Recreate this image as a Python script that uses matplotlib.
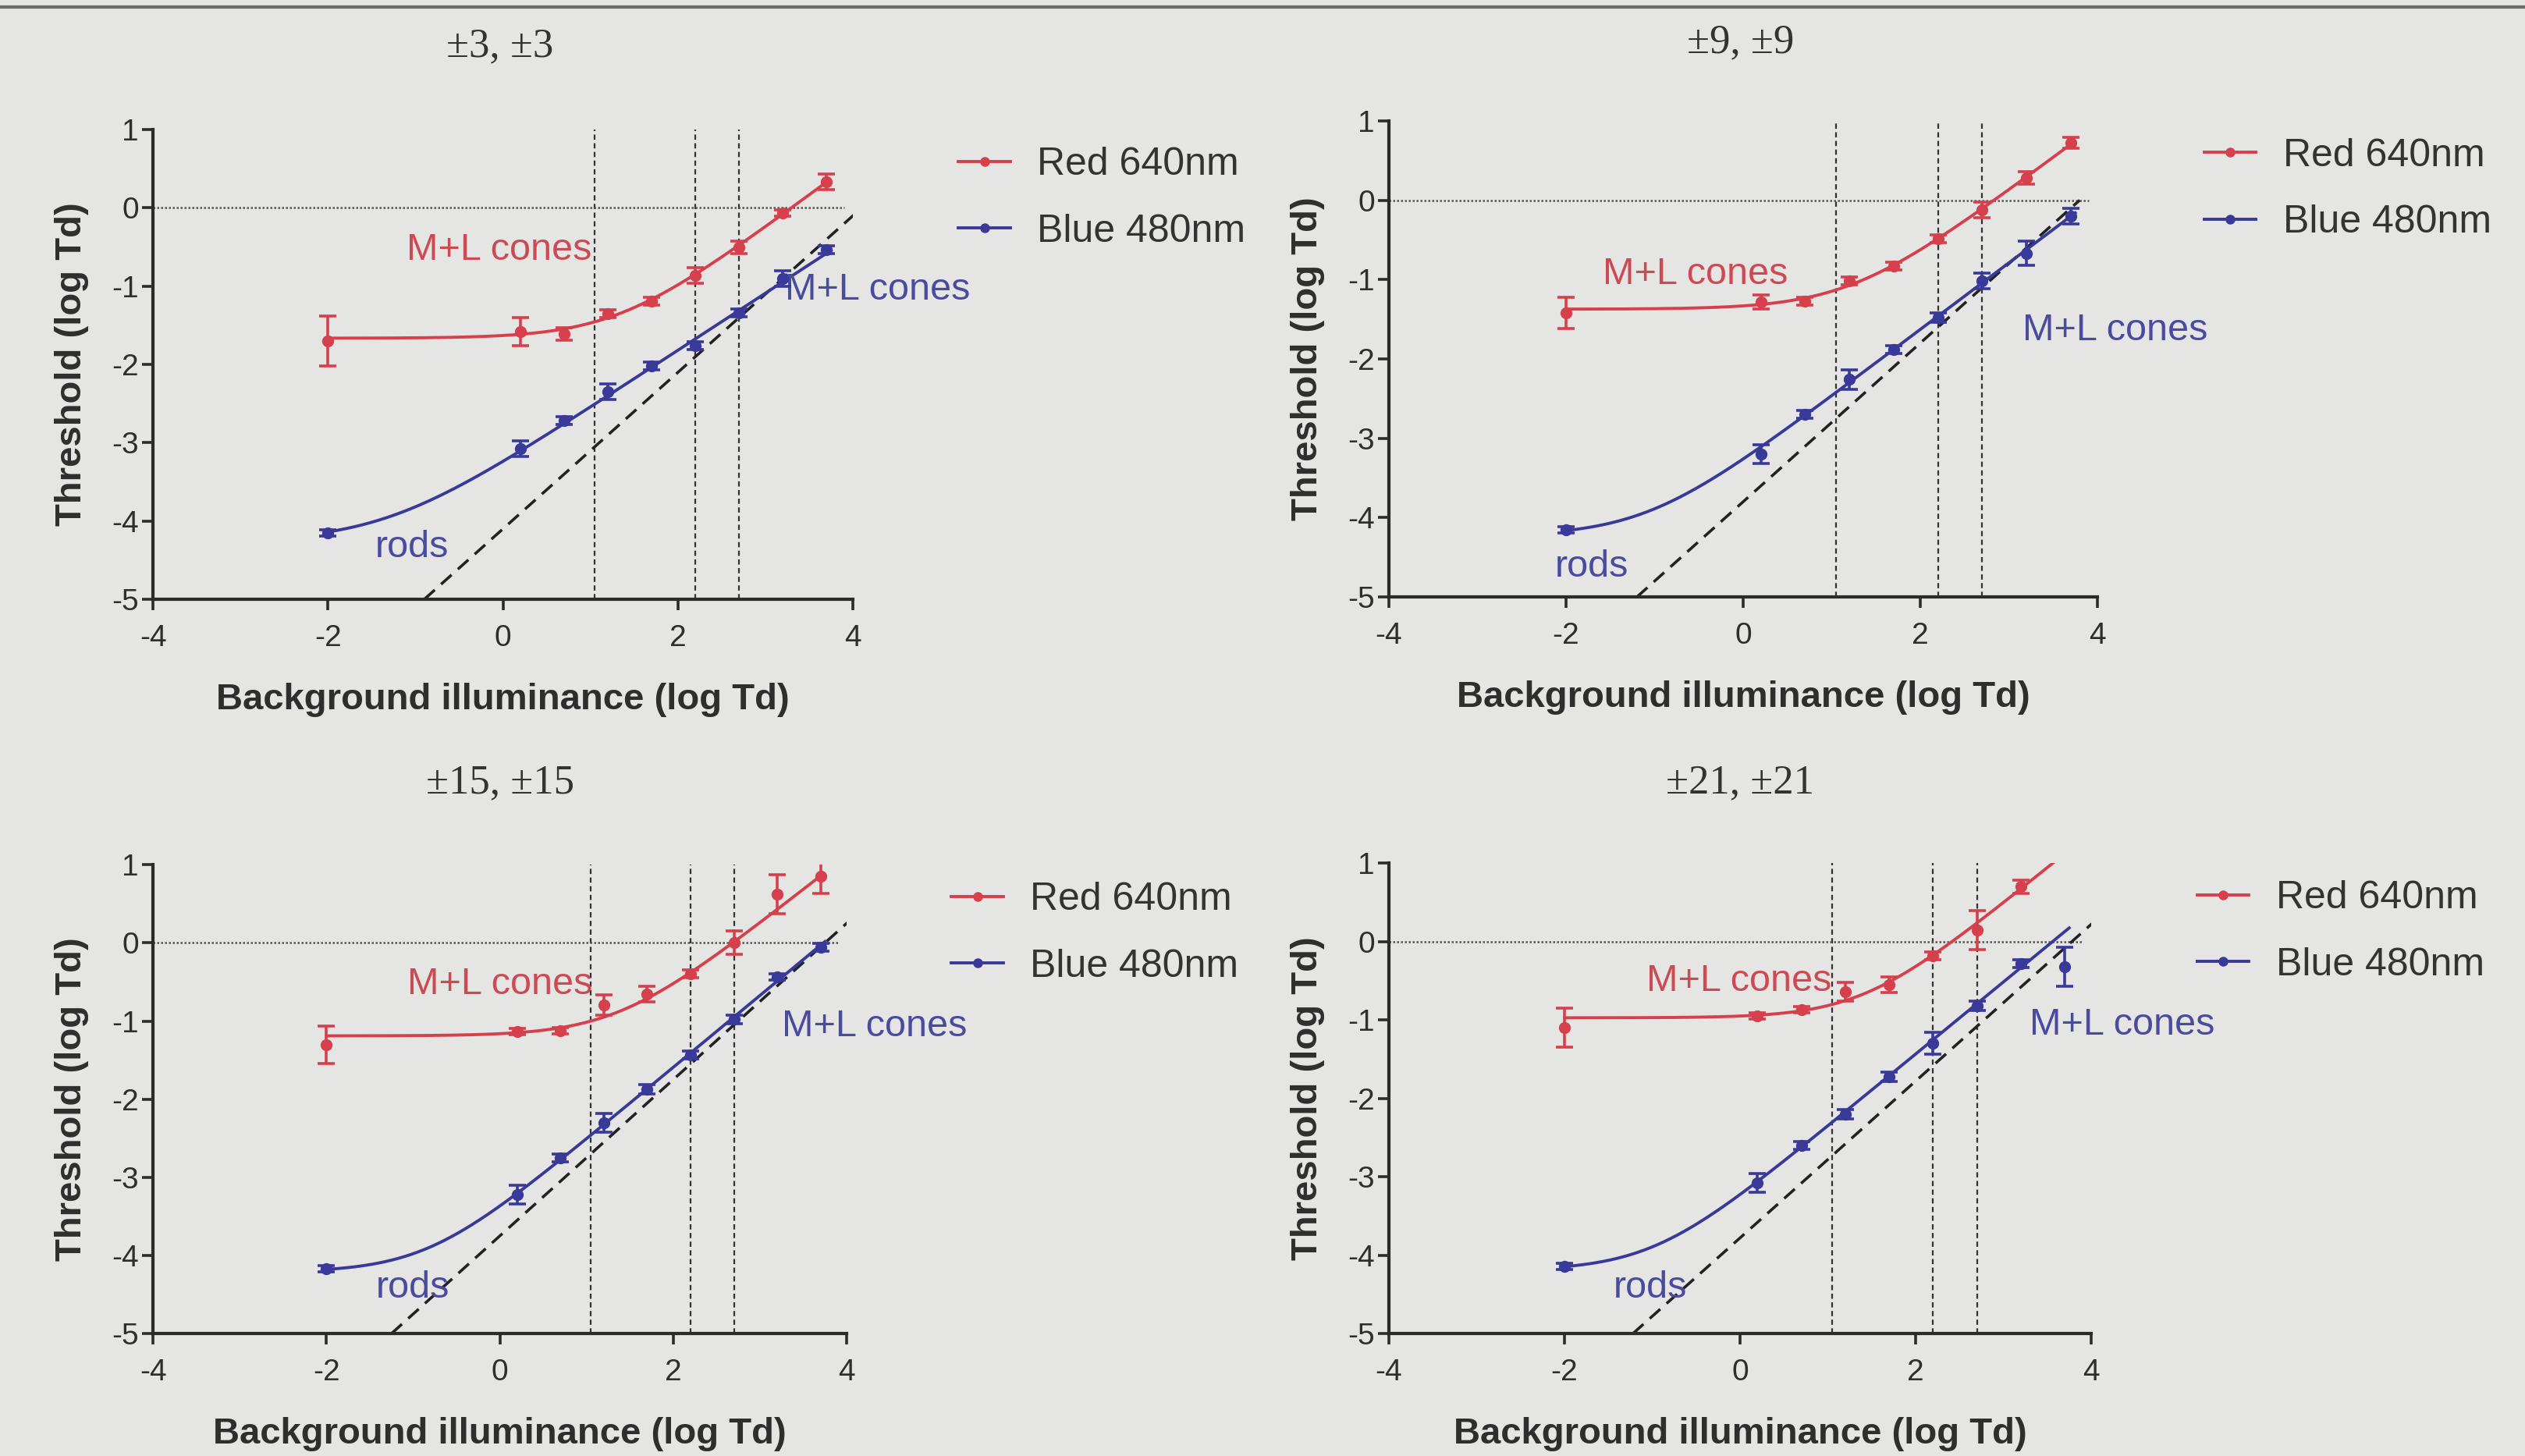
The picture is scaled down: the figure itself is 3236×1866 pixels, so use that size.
import numpy as np
import matplotlib.pyplot as plt
from matplotlib.lines import Line2D

plt.rcParams['font.family'] = ['Liberation Sans', 'DejaVu Sans']
plt.rcParams['axes.unicode_minus'] = False

# ---- data ----
titles = ['±3, ±3', '±9, ±9', '±15, ±15', '±21, ±21']
x_bg = [-2, 0.2, 0.7, 1.2, 1.7, 2.2, 2.7, 3.2, 3.7]

red_3 = [-1.70, -1.58, -1.61, -1.35, -1.19, -0.86, -0.50, -0.07, 0.33]
red_err_3 = [0.32, 0.18, 0.08, 0.05, 0.05, 0.10, 0.08, 0.04, 0.10]
blue_3 = [-4.15, -3.08, -2.72, -2.35, -2.02, -1.76, -1.34, -0.90, -0.53]
blue_err_3 = [0.04, 0.10, 0.05, 0.10, 0.05, 0.05, 0.05, 0.10, 0.05]

red_9 = [-1.42, -1.28, -1.27, -1.02, -0.83, -0.49, -0.12, 0.28, 0.72]
red_err_9 = [0.20, 0.09, 0.05, 0.05, 0.05, 0.05, 0.10, 0.08, 0.07]
blue_9 = [-4.15, -3.20, -2.70, -2.26, -1.88, -1.48, -1.02, -0.67, -0.20]
blue_err_9 = [0.04, 0.12, 0.05, 0.12, 0.05, 0.06, 0.10, 0.15, 0.10]

red_15 = [-1.30, -1.13, -1.12, -0.80, -0.66, -0.40, 0.00, 0.62, 0.85]
red_err_15 = [0.24, 0.04, 0.04, 0.13, 0.10, 0.05, 0.15, 0.25, 0.22]
blue_15 = [-4.17, -3.22, -2.75, -2.30, -1.87, -1.43, -0.98, -0.44, -0.06]
blue_err_15 = [0.04, 0.12, 0.05, 0.12, 0.06, 0.05, 0.05, 0.04, 0.05]

red_21 = [-1.10, -0.95, -0.87, -0.64, -0.55, -0.18, 0.15, 0.70]
red_err_21 = [0.25, 0.04, 0.04, 0.12, 0.10, 0.05, 0.25, 0.08]
blue_21 = [-4.14, -3.08, -2.60, -2.20, -1.72, -1.30, -0.82, -0.28, -0.32]
blue_err_21 = [0.04, 0.12, 0.05, 0.06, 0.06, 0.14, 0.06, 0.05, 0.25]

# Weber-law reference line (slope 1): intercept and right end per panel
weber_icpt = [-4.1, -3.8, -3.75, -3.78]
weber_end = [4.15, 3.8, 4.2, 4.28]
cone_marks = [1.05, 2.2, 2.7]

panels = [
    (red_3, red_err_3, blue_3, blue_err_3),
    (red_9, red_err_9, blue_9, blue_err_9),
    (red_15, red_err_15, blue_15, blue_err_15),
    (red_21, red_err_21, blue_21, blue_err_21),
]

# ---- layout ----
rects = [
    [0.0606, 0.5884, 0.2771, 0.3226],
    [0.5499, 0.5900, 0.2805, 0.3270],
    [0.0606, 0.0841, 0.2746, 0.3220],
    [0.5499, 0.0841, 0.2780, 0.3230],
]
title_pos = [(0.198, 0.968), (0.689, 0.971), (0.198, 0.4625), (0.689, 0.4625)]
red_lbl = [(-1.10, -0.54), (-1.59, -0.93), (-1.07, -0.53), (-1.07, -0.50)]
blue_lbl = [(3.22, -1.05), (3.15, -1.64), (3.25, -1.07), (3.30, -1.06)]
rods_lbl = [(-1.46, -4.34), (-2.13, -4.62), (-1.43, -4.42), (-1.44, -4.42)]

RED = '#d6404c'
BLUE = '#39399a'
RED_TXT = '#cc4a54'
BLUE_TXT = '#4a4a9e'
INK = '#2b2b2b'
BG = '#e5e5e3'


def fit_tvi(x, y, err):
    # threshold-vs-intensity: y = a + log10(1 + 10**(s*(x - c))), grid search
    x = np.asarray(x, float)
    y = np.asarray(y, float)
    w = 1.0 / np.maximum(np.asarray(err, float), 0.05) ** 2
    best = None
    for s in np.linspace(0.4, 1.4, 101):
        for c in np.linspace(-3, 4, 141):
            g = np.log10(1 + 10 ** (s * (x - c)))
            a = np.sum(w * (y - g)) / np.sum(w)
            sse = np.sum(w * (y - a - g) ** 2)
            if best is None or sse < best[0]:
                best = (sse, a, s, c)
    _, a, s, c = best
    return lambda xx: a + np.log10(1 + 10 ** (s * (xx - c)))


fig = plt.figure(figsize=(32.37, 18.66), dpi=100)
fig.patch.set_facecolor(BG)
fig.add_artist(Line2D([0, 1], [1 - 9 / 1866, 1 - 9 / 1866], transform=fig.transFigure,
                      color='#6a6a6a', lw=3))

for i, (ry, re, by, be) in enumerate(panels):
    ax = fig.add_axes(rects[i])
    ax.set_facecolor('none')
    rx = x_bg[:len(ry)]
    bx = x_bg[:len(by)]

    for xv in cone_marks:
        ax.plot([xv, xv], [-5, 1], ls=(0, (3, 2)), color='#333333', lw=1.6, zorder=1)
    ax.plot([-4, 3.9], [0, 0], ls=(0, (1, 1)), color='#555555', lw=1.8, zorder=1)

    x0 = -5 - weber_icpt[i]
    ax.plot([x0, weber_end[i]], [x0 + weber_icpt[i], weber_end[i] + weber_icpt[i]],
            ls=(0, (5, 3)), color='#222222', lw=2.6, zorder=2)

    xx = np.linspace(min(rx), 3.7, 300)
    ax.plot(xx, fit_tvi(rx, ry, re)(xx), color=RED, lw=2.8, zorder=3)
    xx = np.linspace(min(bx), max(bx) + 0.05, 300)
    ax.plot(xx, fit_tvi(bx, by, be)(xx), color=BLUE, lw=2.8, zorder=3)

    ax.errorbar(rx, ry, yerr=re, fmt='o', color=RED, ms=10, elinewidth=2.6,
                capsize=8, capthick=2.6, zorder=4)
    ax.errorbar(bx, by, yerr=be, fmt='o', color=BLUE, ms=10, elinewidth=2.6,
                capsize=8, capthick=2.6, zorder=4)

    ax.text(*red_lbl[i], 'M+L cones', color=RED_TXT, fontsize=35, va='center', ha='left')
    ax.text(*blue_lbl[i], 'M+L cones', color=BLUE_TXT, fontsize=35, va='center', ha='left')
    ax.text(*rods_lbl[i], 'rods', color=BLUE_TXT, fontsize=35, va='center', ha='left')

    ax.set_xlim(-4, 4)
    ax.set_ylim(-5, 1)
    ax.set_xticks([-4, -2, 0, 2, 4])
    ax.set_yticks([-5, -4, -3, -2, -1, 0, 1])
    for side in ('top', 'right'):
        ax.spines[side].set_visible(False)
    for side in ('left', 'bottom'):
        ax.spines[side].set_linewidth(3)
        ax.spines[side].set_color(INK)
    ax.tick_params(length=10, width=2.6, color=INK, labelsize=28, labelcolor='#2e2e2e')
    ax.tick_params(axis='x', pad=13)
    ax.tick_params(axis='y', pad=3)
    ax.set_xlabel('Background illuminance (log Td)', fontsize=34, fontweight='bold',
                  color='#2e2e2e', labelpad=28)
    ax.set_ylabel('Threshold (log Td)', fontsize=34, fontweight='bold',
                  color='#2e2e2e', labelpad=21)

    handles = [Line2D([], [], color=RED, lw=2.8, marker='o', ms=8),
               Line2D([], [], color=BLUE, lw=2.8, marker='o', ms=8)]
    ax.legend(handles, ['Red 640nm', 'Blue 480nm'], loc='upper left',
              bbox_to_anchor=(1.123, 1.005), frameon=False, fontsize=36,
              handlelength=1.33, handletextpad=0.69, labelspacing=0.79, borderpad=0,
              labelcolor='#333333')

    fig.text(*title_pos[i], titles[i], family=['Liberation Serif', 'DejaVu Serif'],
             fontsize=38, ha='center', va='center', color='#333333')

fig.savefig('out.png', dpi=100, facecolor=fig.get_facecolor())
